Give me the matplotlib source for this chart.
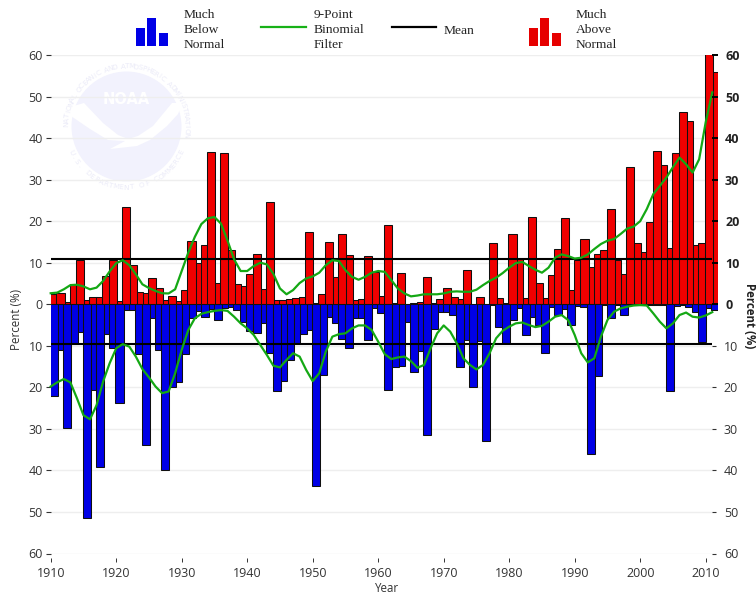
import math
import numpy as np
import matplotlib
matplotlib.use("Agg")
import matplotlib.pyplot as plt
from matplotlib.patches import Circle, Polygon, Rectangle

W, H = 756, 596
plt.rcParams['font.family'] = ['Open Sans', 'DejaVu Sans']

start_year = 1910
above = [2.4,2.6,0.6,4.8,10.6,1.0,1.7,1.7,6.7,10.6,0.9,23.3,9.5,3.0,2.8,6.4,4.0,1.0,2.0,0.8,
         3.4,15.3,10.0,14.2,36.7,5.0,36.4,13.0,4.8,4.4,7.4,12.0,3.7,24.7,1.0,1.0,1.2,1.6,1.7,17.3,
         0.2,2.4,14.9,6.5,17.0,11.8,1.0,1.2,11.5,7.8,2.0,19.0,0.2,7.6,0.1,0.2,0.6,6.5,0.2,1.2,
         4.0,1.8,1.2,8.2,0.1,1.8,0.1,14.8,1.5,0.4,17.0,11.0,1.5,21.0,5.0,1.5,7.0,13.4,20.8,3.4,
         10.6,15.6,9.0,12.2,13.1,23.0,10.7,7.3,33.0,14.8,12.6,19.8,36.8,33.6,13.6,36.4,46.2,44.2,14.2,14.8,
         60.2,56.0]
below = [22.0,11.0,29.7,9.6,6.6,51.4,20.6,39.2,7.1,10.6,23.7,1.4,1.4,11.9,33.9,3.2,11.0,39.8,19.8,18.6,
         12.0,3.2,1.6,3.0,1.1,3.8,1.0,0.6,1.4,4.2,6.4,7.0,4.6,11.8,20.9,18.5,13.4,9.4,7.2,6.2,
         43.7,17.0,3.0,4.6,8.4,10.6,3.2,3.2,8.6,1.0,2.0,20.6,15.0,14.8,4.3,16.4,11.2,31.5,6.0,1.8,
         1.8,2.6,15.0,8.6,20.0,8.8,33.0,0.2,5.4,9.4,3.8,1.0,7.4,3.0,5.0,11.8,0.6,2.7,1.2,5.0,
         0.4,0.6,36.0,17.2,0.2,3.2,0.2,2.6,0.2,0.2,0.2,0.1,0.1,0.2,21.0,0.4,0.1,0.6,1.8,9.0,
         1.0,1.4]
filter_above = [2.65,2.8,3.6,4.6,4.7,4.3,3.6,4.0,5.6,7.9,9.9,10.6,9.4,7.2,4.8,3.9,3.2,2.65,2.6,3.6,
                8.0,12.4,16.2,19.3,20.7,21.0,19.4,15.3,10.8,8.0,8.0,9.2,10.0,9.6,7.3,3.8,2.4,3.4,5.1,6.2,
                6.7,7.6,9.4,10.6,10.4,8.2,6.6,5.9,6.6,7.6,8.0,7.8,5.8,3.8,2.6,1.9,2.1,2.4,2.4,2.4,
                2.6,3.0,3.1,3.0,3.0,3.5,4.6,5.6,6.4,7.5,8.8,9.9,10.2,9.2,8.3,7.6,8.8,11.2,12.0,11.6,
                11.0,11.2,12.0,13.3,14.5,15.3,15.7,16.9,18.2,18.7,20.0,22.9,26.5,28.5,30.5,33.0,35.3,33.7,31.7,34.9,
                43.8,51.0]
filter_below = [19.8,18.8,18.0,18.8,22.6,26.7,27.7,24.3,18.6,14.2,10.6,9.6,10.2,12.6,15.6,17.6,19.8,21.4,21.0,16.6,
                11.0,6.2,3.4,2.3,1.9,1.6,1.4,1.6,3.0,4.6,5.8,7.4,9.8,12.2,14.8,15.2,13.4,11.8,12.6,15.8,
                18.5,16.6,11.4,7.8,7.2,7.0,5.8,5.1,5.1,6.2,9.0,12.0,13.2,12.8,12.6,13.7,15.3,14.6,10.6,7.0,
                5.1,6.6,9.4,13.0,14.6,15.7,14.6,11.8,8.2,6.4,5.4,4.6,4.4,5.0,5.5,5.2,4.2,3.0,2.6,3.8,
                7.4,11.8,14.0,13.0,7.8,3.8,1.8,1.0,0.6,0.3,0.2,0.3,2.2,4.2,5.8,4.6,2.6,2.0,3.0,3.2,
                2.7,1.9]
mean_above = 10.8
mean_below = 9.6
year_ticks = [1910,1920,1930,1940,1950,1960,1970,1980,1990,2000,2010]
pos_ticks = [0,10,20,30,40,50,60]
neg_ticks = [10,20,30,40,50,60]
legend_bar_heights = [18, 27.4, 12.4]

years = np.arange(start_year, start_year + len(above))

fig = plt.figure(figsize=(W/100, H/100), dpi=100, facecolor='white')

def fx(p): return p / W
def fy(p): return 1 - p / H

# Background layer in pixel coordinates: logo and legend
bg = fig.add_axes([0, 0, 1, 1], zorder=0)
bg.set_xlim(0, W); bg.set_ylim(H, 0); bg.axis('off')

cx, cy, r = 126.5, 126.5, 55
logo_c = '#f2f2fd'
bg.add_patch(Circle((cx, cy), r, fc=logo_c, ec='none'))
bg.add_patch(Polygon([(70,107),(84,103),(103,123),(118,135),(128,139),(138,136),(153,126),(172,103),(183,103),
                      (178,114),(167,126),(150,140),(137,146),(110,149),(125,141),(108,140),(90,129),(71,116)],
                     closed=True, fc='white', ec='none'))
bg.text(cx, 100, 'NOAA', color='white', fontsize=10.5, fontweight='bold', ha='center', va='center',
        family='DejaVu Sans')
def ring(text, a0, a1, radius, flip=False):
    for i, ch in enumerate(text):
        a = math.radians(a0 + (a1 - a0) * i / (len(text) - 1))
        x, y = cx + radius * math.cos(a), cy - radius * math.sin(a)
        rot = math.degrees(a) - 90 if not flip else math.degrees(a) + 90
        bg.text(x, y, ch, color='#ebebf8', fontsize=5.2, ha='center', va='center', rotation=rot,
                family='DejaVu Sans')
ring('NATIONAL OCEANIC AND ATMOSPHERIC ADMINISTRATION', 178, -8, 60)
ring('U.S. DEPARTMENT OF COMMERCE', 205, 335, 61, flip=True)

serif = 'Liberation Serif'
def legend_lines(x, lines, ys):
    for t, y in zip(lines, ys):
        bg.text(x, y, t, family=serif, fontsize=9.7, color='#222222', ha='left', va='center')
rows = [15.3, 30.3, 45.3]
for x0, col in ((135.7, '#0000e6'), (528.7, '#e60000')):
    for k, h in enumerate(legend_bar_heights):
        bg.add_patch(Rectangle((x0 + k * 11.7, 45.7 - h), 9, h, fc=col, ec='none'))
legend_lines(183.3, ['Much', 'Below', 'Normal'], rows)
legend_lines(314, ['9-Point', 'Binomial', 'Filter'], rows)
legend_lines(444, ['Mean'], [30.5])
legend_lines(575.7, ['Much', 'Above', 'Normal'], rows)
bg.plot([260.7, 305.7], [27.3, 27.3], color='#17b117', lw=1.6)
bg.plot([391.7, 436], [27.3, 27.3], color='black', lw=1.6)

# Main plot
x_left, x_right = 50.7, 718.0
y_top, y_bot = 55.0, 553.5
ax = fig.add_axes([fx(x_left), fy(y_bot), (x_right - x_left) / W, (y_bot - y_top) / H], zorder=1)
ax.patch.set_alpha(0)
ax.set_xlim(1910, 1910 + (x_right - x_left) / 6.55)
ax.set_ylim(-60, 60)
for s in ax.spines.values():
    s.set_visible(False)

grid_levels = [v for v in pos_ticks if v] + [-v for v in neg_ticks]
ax.hlines(grid_levels, 1910, 2011, color='#eeeeee', lw=1.0, zorder=0.5)

centers = years + 0.5
edge = '#101010'
for vals, col in ((above, '#f00000'), (below, '#0000e6')):
    sign = 1 if col == '#f00000' else -1
    bars = ax.bar(centers, [sign * v for v in vals], width=1.24, color=col, edgecolor=edge, linewidth=0.75)
    for b, v in zip(bars, vals):
        b.set_zorder(1 + v / 100)

ax.hlines([mean_above, -mean_below], 1910, 2011, color='black', lw=1.5, zorder=3)
ax.plot(years, filter_above, color='#14a814', lw=1.6, zorder=4, clip_on=False)
ax.plot(years, [-v for v in filter_below], color='#14a814', lw=1.6, zorder=4, clip_on=False)

ax.spines['bottom'].set_position(('outward', 3.2))
ax.set_xticks(year_ticks)
ax.tick_params(axis='x', length=3, width=0.7, color='#333333', labelsize=9, labelcolor='#333333', pad=3.6)
ax.set_yticks([-v for v in neg_ticks] + pos_ticks)
ax.set_yticklabels([str(v) for v in neg_ticks] + [str(v) for v in pos_ticks])
ax.tick_params(axis='y', length=3.6, width=0.8, color='#333333', labelsize=9, labelcolor='#333333', pad=2)
fig.text(387 / W, fy(589), 'Year', fontsize=8.3, color='#333333', ha='center', va='center')
fig.text(16 / W, fy(319), 'Percent (%)', fontsize=8.3, color='#333333', rotation=90, ha='center', va='center')

ax2 = ax.twinx()
ax2.set_ylim(-60, 60)
ax2.patch.set_alpha(0)
for s in ax2.spines.values():
    s.set_visible(False)
ax2.spines['right'].set_position(('data', 2011))
ax2.set_yticks(pos_ticks)
ax2.set_yticklabels([str(v) for v in pos_ticks], fontweight='bold', color='#222222', fontsize=9)
ax2.set_yticks([-v for v in neg_ticks], minor=True)
ax2.set_yticklabels([str(v) for v in neg_ticks], minor=True, color='#333333', fontsize=9)
ax2.tick_params(axis='y', which='major', length=4.6, width=1.4, color='black', pad=4.6)
ax2.tick_params(axis='y', which='minor', length=3, width=0.8, color='#333333', pad=5.4)
fig.text(750 / W, fy(316), 'Percent (%)', fontsize=8.3, fontweight='bold', color='#222222', rotation=270,
         ha='center', va='center')

fig.savefig('out.png', dpi=100, facecolor='white')
